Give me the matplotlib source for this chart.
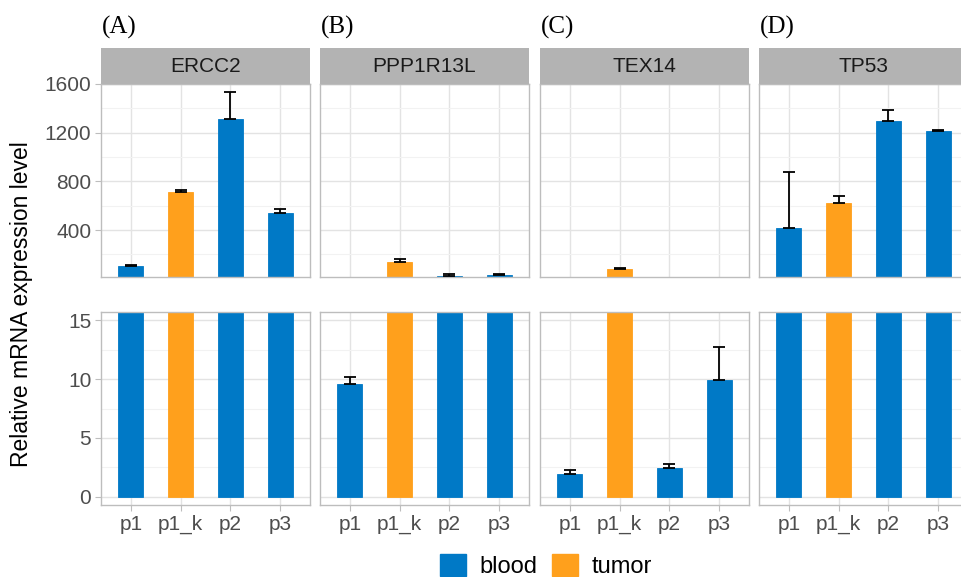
import matplotlib
matplotlib.use("Agg")
import matplotlib.pyplot as plt
from matplotlib.patches import Patch
import numpy as np

plt.rcParams['font.family'] = ['Liberation Sans', 'DejaVu Sans']

genes = ["ERCC2", "PPP1R13L", "TEX14", "TP53"]
panel_tags = ["(A)", "(B)", "(C)", "(D)"]
samples = ["p1", "p1_k", "p2", "p3"]
tissue = ["blood", "tumor", "blood", "blood"]

ercc2 = [105, 715, 1312, 540]
ercc2_sd = [10, 18, 220, 30]
ppp1r13l = [9.6, 135, 22, 30]
ppp1r13l_sd = [0.6, 25, 20, 8]
tex14 = [1.95, 77, 2.45, 9.9]
tex14_sd = [0.3, 8, 0.35, 2.8]
tp53 = [414, 622, 1299, 1217]
tp53_sd = [460, 58, 88, 8]

means = [ercc2, ppp1r13l, tex14, tp53]
sds = [ercc2_sd, ppp1r13l_sd, tex14_sd, tp53_sd]

colors = {"blood": "#0079C6", "tumor": "#FFA01C"}
grid_major = "#E3E3E3"
grid_minor = "#F2F2F2"
border = "#BDBDBD"

top_lim = (14, 1600)
bot_lim = (-0.7, 15.7)

W, H = 961, 577
fig = plt.figure(figsize=(W / 100, H / 100), dpi=100)

def px_axes(x0, y0, x1, y1):
    return fig.add_axes([x0 / W, 1 - y1 / H, (x1 - x0) / W, (y1 - y0) / H])

def style(ax, yticks, yminor, ylim, show_y, show_x):
    x = np.arange(len(samples))
    ax.set_xlim(-0.6, len(samples) - 0.4)
    ax.set_ylim(*ylim)
    ax.set_xticks(x)
    ax.set_yticks(yticks)
    ax.set_yticks(yminor, minor=True)
    ax.grid(True, which="major", color=grid_major, lw=1.0, zorder=0)
    ax.grid(True, which="minor", axis="y", color=grid_minor, lw=0.8, zorder=0)
    ax.set_axisbelow(True)
    for s in ax.spines.values():
        s.set_color(border)
        s.set_linewidth(1.0)
    ax.tick_params(which="both", color=border, length=4, labelsize=15,
                   labelcolor="#4D4D4D", pad=3)
    ax.tick_params(which="minor", length=0)
    if show_x:
        ax.set_xticklabels(samples)
    else:
        ax.tick_params(axis="x", length=0, labelbottom=False)
    if not show_y:
        ax.tick_params(axis="y", length=0, labelleft=False)

lefts = [101, 320, 540, 759]
pw = 209
for i, g in enumerate(genes):
    x0 = lefts[i]
    x = np.arange(len(samples))
    m = np.array(means[i], dtype=float)
    sd = np.array(sds[i], dtype=float)
    cols = [colors[t] for t in tissue]
    top = px_axes(x0, 84, x0 + pw, 277)
    bot = px_axes(x0, 312, x0 + pw, 505)
    for ax, lim in ((top, top_lim), (bot, bot_lim)):
        ax.bar(x, m, width=0.5, color=cols, edgecolor=cols, lw=0.6, zorder=2)
        keep = m > lim[0]
        ax.errorbar(x[keep], m[keep], yerr=[np.zeros(keep.sum()), sd[keep]], fmt="none",
                    ecolor="black", elinewidth=1.3, capsize=4, capthick=1.3, zorder=3)
    style(top, [400, 800, 1200, 1600], [200, 600, 1000, 1400], top_lim, i == 0, False)
    style(bot, [0, 5, 10, 15], [2.5, 7.5, 12.5], bot_lim, i == 0, True)

    strip = px_axes(x0, 48, x0 + pw, 84)
    strip.set_facecolor("#B3B3B3")
    strip.set_xticks([])
    strip.set_yticks([])
    for s in strip.spines.values():
        s.set_visible(False)
    strip.text(0.5, 0.5, g, ha="center", va="center", fontsize=15, color="#1A1A1A",
               transform=strip.transAxes)

    fig.text((x0 + 1) / W, 1 - 27 / H, panel_tags[i], family="Liberation Serif",
             fontsize=18, ha="left", va="center")

fig.text(22 / W, 1 - 304 / H, "Relative mRNA expression level", rotation=90,
         ha="center", va="center", fontsize=16.5)

handles = [Patch(facecolor=colors[k], edgecolor=colors[k], label=k) for k in ["blood", "tumor"]]
fig.legend(handles=handles, loc="center", bbox_to_anchor=(546 / W, 1 - 566 / H), ncol=2,
           frameon=False, fontsize=17, handlelength=1.1, handleheight=1.1,
           handletextpad=0.6, columnspacing=0.6, borderpad=0)

fig.savefig("out.png", dpi=100)
